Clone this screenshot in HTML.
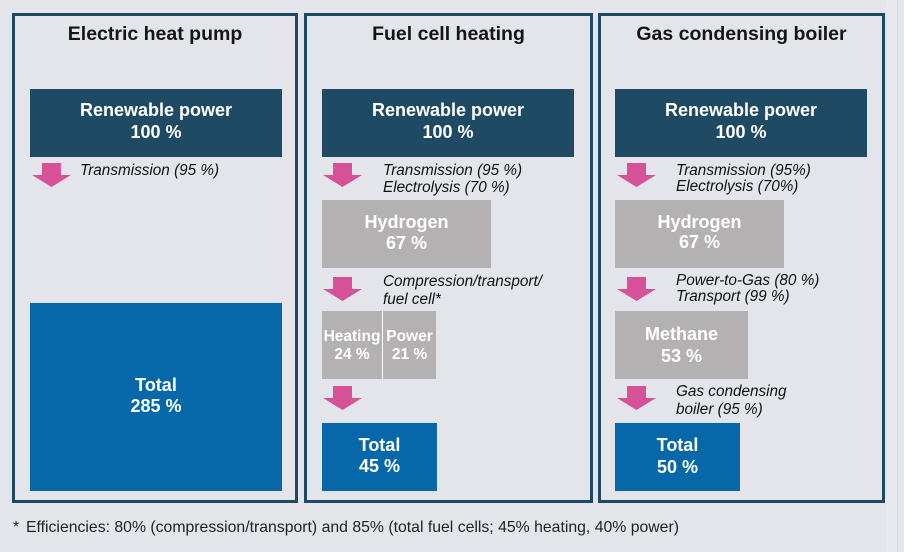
<!DOCTYPE html>
<html>
<head>
<meta charset="utf-8">
<style>
  html,body{margin:0;padding:0;}
  body{width:904px;height:552px;background:#e4e5ea;position:relative;overflow:hidden;font-family:"Liberation Sans",sans-serif;}
  .panel{position:absolute;top:13px;height:490px;border:3px solid #1f4963;box-sizing:border-box;}
  .title{position:absolute;top:22px;font-size:19.5px;font-weight:bold;line-height:24px;color:#151515;text-align:center;white-space:nowrap;}
  .box{position:absolute;}
  .navy{background:#1f4a63;}
  .gray{background:#b3b1b2;}
  .blue{background:#0667a9;}
  .bt{position:absolute;color:#fff;font-weight:bold;font-size:18px;text-align:center;white-space:nowrap;}
  .lbl{position:absolute;font-style:italic;font-size:15.3px;color:#111;white-space:nowrap;}
  svg.arr{position:absolute;width:39px;height:24px;}
  .foot{position:absolute;top:518.5px;font-size:15.8px;line-height:18px;color:#222;white-space:nowrap;}
</style>
</head>
<body>
<div class="box" style="left:887px;top:0;width:10px;height:552px;background:#e8e9ee;"></div>
<div class="box" style="left:897px;top:0;width:1px;height:552px;background:#dcdde2;"></div>
<!-- panels -->
<div class="panel" style="left:12px;width:286px;"></div>
<div class="panel" style="left:304px;width:289px;"></div>
<div class="panel" style="left:598px;width:287px;"></div>

<!-- titles -->
<div class="title" style="left:12px;width:286px;">Electric heat pump</div>
<div class="title" style="left:304px;width:289px;">Fuel cell heating</div>
<div class="title" style="left:598px;width:287px;">Gas condensing boiler</div>

<!-- Panel 1 -->
<div class="box navy" style="left:30px;top:89px;width:252px;height:68px;"></div>
<div class="bt" style="left:30px;width:252px;top:98.8px;line-height:22px;">Renewable power<br>100 %</div>
<svg class="arr" style="left:32px;top:163px;" viewBox="0 0 39 24"><polygon points="10,0 29,0 29,12 39,12 19.5,24 0,12 10,12" fill="#d75199"/></svg>
<div class="lbl" style="left:80px;top:162px;line-height:17px;">Transmission (95 %)</div>
<div class="box blue" style="left:30px;top:303px;width:252px;height:188px;"></div>
<div class="bt" style="left:30px;width:252px;top:375.3px;line-height:21px;">Total<br>285 %</div>

<!-- Panel 2 -->
<div class="box navy" style="left:322px;top:89px;width:252px;height:68px;"></div>
<div class="bt" style="left:322px;width:252px;top:98.8px;line-height:22px;">Renewable power<br>100 %</div>
<svg class="arr" style="left:323px;top:163px;" viewBox="0 0 39 24"><polygon points="10,0 29,0 29,12 39,12 19.5,24 0,12 10,12" fill="#d75199"/></svg>
<div class="lbl" style="left:383px;top:162px;line-height:17px;">Transmission (95 %)<br>Electrolysis (70 %)</div>
<div class="box gray" style="left:322px;top:200px;width:169px;height:68px;"></div>
<div class="bt" style="left:322px;width:169px;top:212.3px;line-height:21px;">Hydrogen<br>67 %</div>
<svg class="arr" style="left:323px;top:277px;" viewBox="0 0 39 24"><polygon points="10,0 29,0 29,12 39,12 19.5,24 0,12 10,12" fill="#d75199"/></svg>
<div class="lbl" style="left:383px;top:273px;line-height:18px;">Compression/transport/<br>fuel cell*</div>
<div class="box gray" style="left:322px;top:311px;width:114px;height:68px;"></div>
<div class="box" style="left:382px;top:311px;width:1px;height:68px;background:#fff;"></div>
<div class="bt" style="left:322px;width:60px;top:327.6px;line-height:18px;font-size:15.5px;">Heating<br>24 %</div>
<div class="bt" style="left:383px;width:53px;top:327.6px;line-height:18px;font-size:15.5px;">Power<br>21 %</div>
<svg class="arr" style="left:323px;top:386px;" viewBox="0 0 39 24"><polygon points="10,0 29,0 29,12 39,12 19.5,24 0,12 10,12" fill="#d75199"/></svg>
<div class="box blue" style="left:322px;top:423px;width:115px;height:68px;"></div>
<div class="bt" style="left:322px;width:115px;top:435.3px;line-height:21px;">Total<br>45 %</div>

<!-- Panel 3 -->
<div class="box navy" style="left:615px;top:89px;width:252px;height:68px;"></div>
<div class="bt" style="left:615px;width:252px;top:98.8px;line-height:22px;">Renewable power<br>100 %</div>
<svg class="arr" style="left:617px;top:163px;" viewBox="0 0 39 24"><polygon points="10,0 29,0 29,12 39,12 19.5,24 0,12 10,12" fill="#d75199"/></svg>
<div class="lbl" style="left:676px;top:162.5px;line-height:16.5px;">Transmission (95%)<br>Electrolysis (70%)</div>
<div class="box gray" style="left:615px;top:200px;width:169px;height:68px;"></div>
<div class="bt" style="left:615px;width:169px;top:211.5px;line-height:20.5px;">Hydrogen<br>67 %</div>
<svg class="arr" style="left:617px;top:277px;" viewBox="0 0 39 24"><polygon points="10,0 29,0 29,12 39,12 19.5,24 0,12 10,12" fill="#d75199"/></svg>
<div class="lbl" style="left:676px;top:273px;line-height:16px;">Power-to-Gas (80 %)<br>Transport (99 %)</div>
<div class="box gray" style="left:615px;top:311px;width:133px;height:68px;"></div>
<div class="bt" style="left:615px;width:133px;top:322.8px;line-height:22px;">Methane<br>53 %</div>
<svg class="arr" style="left:617px;top:386px;" viewBox="0 0 39 24"><polygon points="10,0 29,0 29,12 39,12 19.5,24 0,12 10,12" fill="#d75199"/></svg>
<div class="lbl" style="left:676px;top:383px;line-height:18px;">Gas condensing<br>boiler (95 %)</div>
<div class="box blue" style="left:615px;top:423px;width:125px;height:68px;"></div>
<div class="bt" style="left:615px;width:125px;top:433.8px;line-height:22px;">Total<br>50 %</div>

<!-- Footer -->
<div class="foot" style="left:13px;">*</div>
<div class="foot" style="left:26px;">Efficiencies: 80% (compression/transport) and 85% (total fuel cells; 45% heating, 40% power)</div>
</body>
</html>
